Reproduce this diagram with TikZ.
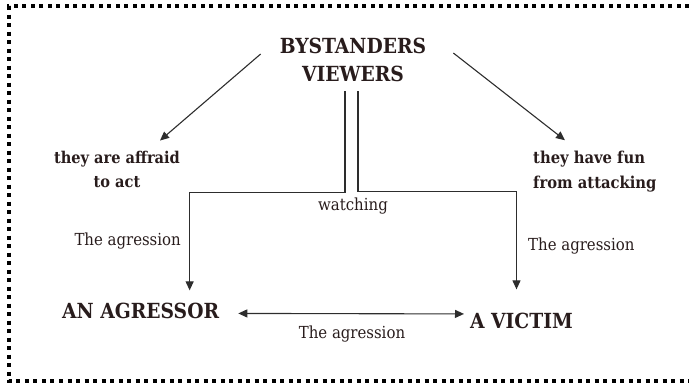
\documentclass[tikz,border=0pt]{standalone}
\usepackage{fontspec}
\setmainfont{DejaVu Serif Condensed}
\usetikzlibrary{arrows.meta,calc}
\definecolor{txt}{RGB}{40,28,28}
\definecolor{ln}{RGB}{45,45,45}
\begin{document}
\begin{tikzpicture}[x=1pt,y=-1pt,
  title/.style={font=\bfseries\fontsize{20.8}{28}\selectfont,text=txt,inner sep=0pt},
  sub/.style={font=\bfseries\fontsize{16.2}{24}\selectfont,text=txt,inner sep=0pt},
  lbl/.style={font=\fontsize{16.6}{23}\selectfont,text=txt,inner sep=0pt},
  conn/.style={draw=ln,line width=1.1pt},
  arr/.style={conn,-{Triangle[length=9pt,width=8pt]}},
  darr/.style={conn,{Triangle[length=9pt,width=8pt]}-{Triangle[length=9pt,width=8pt]}},
  frame/.style={draw=black,line width=4pt,dash pattern=on 4pt off 4.5pt}]
\useasboundingbox (0,0) rectangle (689,386);
% dotted frame, open on the right
\draw[frame] (689,6) -- (9,6) -- (9,381) -- (689,381);
% nodes
\node[title,align=center] (by) at (353,60) {BYSTANDERS\\VIEWERS};
\node[sub,align=center] (afr) at (117,169) {they are affraid\\to act};
\node[sub,align=left,anchor=west,font=\bfseries\fontsize{16.4}{25}\selectfont] (fun) at (533,172) {they have fun\\from attacking};
\node[title,anchor=base west] (agr) at (62,318) {AN AGRESSOR};
\node[title,anchor=base west] (vic) at (470,328) {A VICTIM};
% labels
\node[lbl,anchor=base east] (lagrL) at (181,245) {The agression};
\node[lbl,anchor=base west] (lagrR) at (528,250) {The agression};
\node[lbl,anchor=base] (lwatch) at (353,210) {watching};
\node[lbl,anchor=base] (lagrB) at (352,338) {The agression};
% connectors
\draw[arr] ([shift={(-19,-6)}]by.west) -- ([shift={(43,-10)}]afr.north);
\draw[arr] ([shift={(27,-7)}]by.east) -- ([shift={(32,-11)}]fun.north west);
\draw[arr] ([shift={(-8,9)}]by.south) -- ([shift={(-8,110)}]by.south) -| ([shift={(49,-12)}]agr.north);
\draw[arr] ([shift={(5,9)}]by.south) -- ([shift={(5,109)}]by.south) -| ([shift={(-5,-23)}]vic.north);
\coordinate (arrL) at ($(agr.east)+(19,3)$);
\coordinate (arrR) at ($(vic.west)+(-6,-6.5)$);
\draw[darr] (arrL) -- (arrR);
\end{tikzpicture}
\end{document}
